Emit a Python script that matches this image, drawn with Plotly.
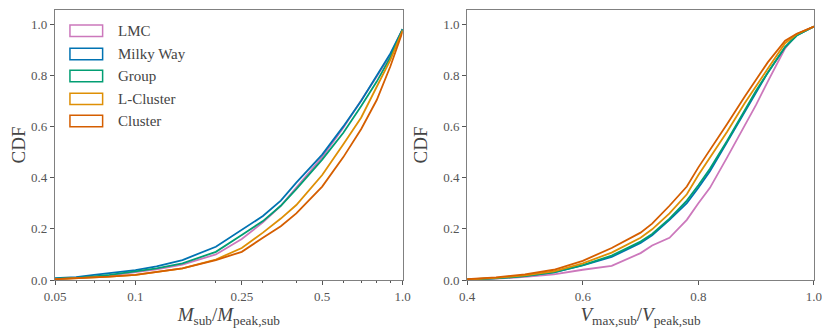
import plotly.graph_objects as go

# colours (seaborn colorblind)
COLORS = {
    "LMC": "#CC78BC",
    "Milky Way": "#0173B2",
    "Group": "#029E73",
    "L-Cluster": "#DE8F05",
    "Cluster": "#D55E00",
}
names = ["LMC", "Milky Way", "Group", "L-Cluster", "Cluster"]

# left panel: M_sub / M_peak,sub (log x)
m_x = [0.05, 0.06, 0.07, 0.08, 0.1, 0.12, 0.15, 0.2, 0.25, 0.3, 0.35, 0.4, 0.5, 0.6, 0.7, 0.8, 0.9, 1.0]
m_cdf = {
    "LMC":       [0.004, 0.007, 0.012, 0.017, 0.030, 0.042, 0.060, 0.100, 0.160, 0.225, 0.290, 0.360, 0.480, 0.595, 0.700, 0.795, 0.880, 0.980],
    "Milky Way": [0.007, 0.011, 0.020, 0.026, 0.039, 0.053, 0.078, 0.130, 0.195, 0.250, 0.310, 0.380, 0.490, 0.600, 0.700, 0.800, 0.885, 0.980],
    "Group":     [0.005, 0.008, 0.014, 0.020, 0.034, 0.045, 0.065, 0.110, 0.176, 0.230, 0.290, 0.355, 0.470, 0.575, 0.680, 0.775, 0.870, 0.980],
    "L-Cluster": [0.003, 0.006, 0.009, 0.013, 0.020, 0.030, 0.045, 0.080, 0.125, 0.185, 0.240, 0.293, 0.410, 0.530, 0.635, 0.755, 0.860, 0.975],
    "Cluster":   [0.003, 0.006, 0.009, 0.013, 0.020, 0.030, 0.045, 0.078, 0.110, 0.165, 0.210, 0.260, 0.365, 0.480, 0.590, 0.703, 0.835, 0.970],
}

# right panel: V_max,sub / V_peak,sub
v_x = [0.4, 0.45, 0.5, 0.55, 0.6, 0.65, 0.7, 0.72, 0.75, 0.78, 0.8, 0.82, 0.85, 0.88, 0.9, 0.92, 0.95, 0.97, 1.0]
v_cdf = {
    "LMC":       [0.001, 0.005, 0.012, 0.022, 0.040, 0.055, 0.105, 0.135, 0.165, 0.235, 0.300, 0.360, 0.480, 0.600, 0.685, 0.775, 0.905, 0.960, 0.990],
    "Milky Way": [0.002, 0.007, 0.016, 0.030, 0.057, 0.090, 0.145, 0.175, 0.235, 0.300, 0.360, 0.425, 0.540, 0.655, 0.735, 0.810, 0.910, 0.955, 0.990],
    "Group":     [0.002, 0.006, 0.015, 0.030, 0.058, 0.095, 0.150, 0.180, 0.240, 0.310, 0.370, 0.435, 0.545, 0.660, 0.740, 0.810, 0.910, 0.955, 0.990],
    "L-Cluster": [0.002, 0.008, 0.018, 0.034, 0.065, 0.107, 0.165, 0.198, 0.260, 0.335, 0.410, 0.477, 0.580, 0.690, 0.760, 0.825, 0.925, 0.960, 0.990],
    "Cluster":   [0.003, 0.010, 0.022, 0.040, 0.075, 0.125, 0.185, 0.220, 0.290, 0.365, 0.440, 0.507, 0.610, 0.716, 0.785, 0.850, 0.935, 0.962, 0.990],
}

m_ticks = [0.05, 0.1, 0.25, 0.5, 1.0]
m_ticktext = ["0.05", "0.1", "0.25", "0.5", "1.0"]
m_minor = [0.06, 0.07, 0.08, 0.09, 0.2, 0.3, 0.4, 0.6, 0.7, 0.8, 0.9]

FONT = "Liberation Serif, DejaVu Serif, serif"
TEXT = "#555555"
LABEL = "#444444"
SPINE = "#808080"

fig = go.Figure()
for n in names:
    fig.add_trace(go.Scatter(x=m_x, y=m_cdf[n], mode="lines", line=dict(color=COLORS[n], width=1.8),
                             name=n, showlegend=False, xaxis="x", yaxis="y"))
for n in names:
    fig.add_trace(go.Scatter(x=v_x, y=v_cdf[n], mode="lines", line=dict(color=COLORS[n], width=1.8),
                             name=n, showlegend=False, xaxis="x2", yaxis="y2"))

axis_common = dict(showline=True, linecolor=SPINE, linewidth=1.3, mirror=True,
                   ticks="outside", ticklen=4, tickwidth=1, tickcolor=TEXT,
                   showgrid=False, zeroline=False, automargin=False,
                   tickfont=dict(family=FONT, size=13, color=TEXT))

# the page body adds an 8px margin, so the figure is sized 8px smaller
fig.update_layout(
    width=822, height=324,
    margin=dict(l=47, r=16, t=2, b=52),
    plot_bgcolor="white", paper_bgcolor="white",
    xaxis=dict(axis_common, domain=[0, 0.458], type="log", range=[-1.30103, 0],
               tickmode="array", tickvals=m_ticks, ticktext=m_ticktext,
               minor=dict(ticks="outside", ticklen=2, tickcolor=TEXT, tickmode="array", tickvals=m_minor),
               title=dict(text="<i>M</i><sub>sub</sub>/<i>M</i><sub>peak,sub</sub>",
                          font=dict(family=FONT, size=19, color=LABEL), standoff=2)),
    yaxis=dict(axis_common, domain=[0, 1], range=[0, 1.0547], tickvals=[0, 0.2, 0.4, 0.6, 0.8, 1.0],
               tickformat=".1f",
               title=dict(text="CDF", font=dict(family=FONT, size=19, color=LABEL), standoff=10)),
    xaxis2=dict(axis_common, domain=[0.543, 1.0], range=[0.4, 1.0], anchor="y2",
                tickvals=[0.4, 0.6, 0.8, 1.0], tickformat=".1f",
                title=dict(text="<i>V</i><sub>max,sub</sub>/<i>V</i><sub>peak,sub</sub>",
                           font=dict(family=FONT, size=19, color=LABEL), standoff=2)),
    yaxis2=dict(axis_common, domain=[0, 1], range=[0, 1.0547], anchor="x2",
                tickvals=[0, 0.2, 0.4, 0.6, 0.8, 1.0], tickformat=".1f",
                title=dict(text="CDF", font=dict(family=FONT, size=19, color=LABEL), standoff=10)),
)

# legend drawn as outlined boxes, like the step-histogram handles
row_y = [0.923, 0.837, 0.7556, 0.671, 0.589]
for n, yc in zip(names, row_y):
    fig.add_shape(type="rect", xref="x domain", yref="y domain",
                  x0=0.043, x1=0.137, y0=yc - 0.021, y1=yc + 0.021,
                  line=dict(color=COLORS[n], width=1.5), fillcolor="white")
    fig.add_annotation(xref="x domain", yref="y domain", x=0.175, y=yc, text=n,
                       showarrow=False, xanchor="left", yanchor="middle",
                       font=dict(family=FONT, size=15, color=LABEL))

fig.write_html("out.html")
